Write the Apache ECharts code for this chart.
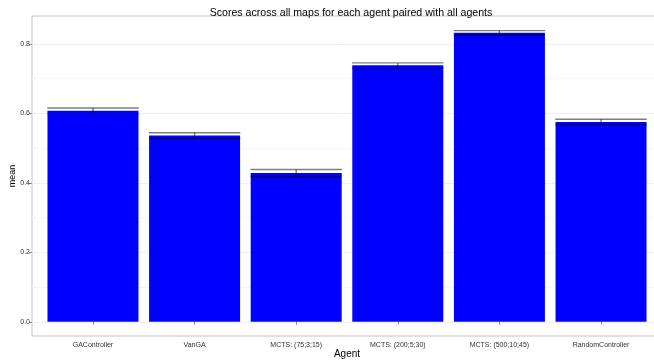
<!DOCTYPE html>
<html>
<head>
<meta charset="utf-8">
<script src="https://cdn.jsdelivr.net/npm/echarts@6/dist/echarts.min.js"></script>
<style>
  html, body { margin: 0; padding: 0; background: #fff; }
  #chart { width: 654px; height: 362px; }
</style>
</head>
<body>
<div id="chart"></div>
<script>
// Mean score per agent with standard-error bars
const agents = ['GAController', 'VanGA', 'MCTS: (75;3;15)', 'MCTS: (200;5;30)', 'MCTS: (500;10;45)', 'RandomController'];
const meanScores = [0.607, 0.536, 0.428, 0.738, 0.832, 0.575];
const stdErrors = [0.008, 0.008, 0.010, 0.007, 0.006, 0.008];
const yMajorTicks = [0.0, 0.2, 0.4, 0.6, 0.8];
const yMinorTicks = [0.1, 0.3, 0.5, 0.7];

const positions = agents.map((_, i) => i + 1);
const barData = agents.map((_, i) => [positions[i], meanScores[i]]);
const errData = agents.map((_, i) => [positions[i], meanScores[i] - stdErrors[i], meanScores[i] + stdErrors[i]]);

const FONT = 'Liberation Sans';
const chart = echarts.init(document.getElementById('chart'), null, { renderer: 'canvas' });

chart.setOption({
  animation: false,
  backgroundColor: '#ffffff',
  title: {
    text: 'Scores across all maps for each agent paired with all agents',
    left: 346,
    top: 3,
    textAlign: 'center',
    textStyle: { fontFamily: FONT, fontSize: 10.6, fontWeight: 'normal', color: '#000' }
  },
  grid: {
    left: 32, right: -8, top: 16, bottom: 26,
    containLabel: false,
    outerBoundsMode: 'none',
    show: true, borderColor: '#c4c4c4', borderWidth: 1, backgroundColor: '#fff'
  },
  xAxis: {
    type: 'value',
    min: 0.4, max: 6.6,
    name: 'Agent',
    nameLocation: 'middle',
    nameGap: 13,
    nameMoveOverlap: false,
    nameTextStyle: { fontFamily: FONT, fontSize: 10, color: '#000' },
    axisLine: { show: false },
    axisTick: { show: true, length: 3, lineStyle: { color: '#8a8a8a' }, customValues: positions },
    axisLabel: {
      customValues: positions,
      formatter: v => agents[Math.round(v) - 1] || '',
      fontFamily: FONT, fontSize: 7, color: '#333', margin: 6
    },
    splitLine: { show: false }
  },
  yAxis: {
    type: 'value',
    min: -0.041, max: 0.880,
    name: 'mean',
    nameLocation: 'middle',
    nameGap: 15,
    nameMoveOverlap: false,
    nameTextStyle: { fontFamily: FONT, fontSize: 9, color: '#000' },
    axisLine: { show: false },
    axisTick: { show: true, length: 3, lineStyle: { color: '#8a8a8a' }, customValues: yMajorTicks },
    axisLabel: {
      customValues: yMajorTicks,
      formatter: v => v.toFixed(1),
      fontFamily: FONT, fontSize: 7, color: '#333', margin: 2
    },
    splitLine: { show: true, lineStyle: { color: '#f0f0f0', width: 1 } }
  },
  series: [
    {
      type: 'line',
      data: [],
      silent: true,
      z: 0,
      markLine: {
        silent: true,
        symbol: 'none',
        z: 0,
        label: { show: false },
        lineStyle: { color: '#f6f6f6', width: 1, type: 'solid' },
        data: yMinorTicks.map(v => ({ yAxis: v }))
      }
    },
    {
      type: 'bar',
      data: barData,
      barWidth: 91,
      z: 3,
      itemStyle: { color: '#0000ff' },
      silent: true
    },
    {
      type: 'custom',
      data: errData,
      silent: true,
      z: 5,
      renderItem: (params, api) => {
        const x = api.value(0);
        const lo = api.coord([x, api.value(1)]);
        const hi = api.coord([x, api.value(2)]);
        const half = api.size([0.9, 0])[0] / 2;
        const style = { stroke: 'rgba(0,0,0,0.5)', lineWidth: 1.4 };
        return {
          type: 'group',
          children: [
            { type: 'line', shape: { x1: lo[0] - half, y1: lo[1], x2: lo[0] + half, y2: lo[1] }, style },
            { type: 'line', shape: { x1: hi[0] - half, y1: hi[1], x2: hi[0] + half, y2: hi[1] }, style },
            { type: 'line', shape: { x1: lo[0], y1: lo[1], x2: hi[0], y2: hi[1] }, style }
          ]
        };
      }
    }
  ]
});
</script>
</body>
</html>
